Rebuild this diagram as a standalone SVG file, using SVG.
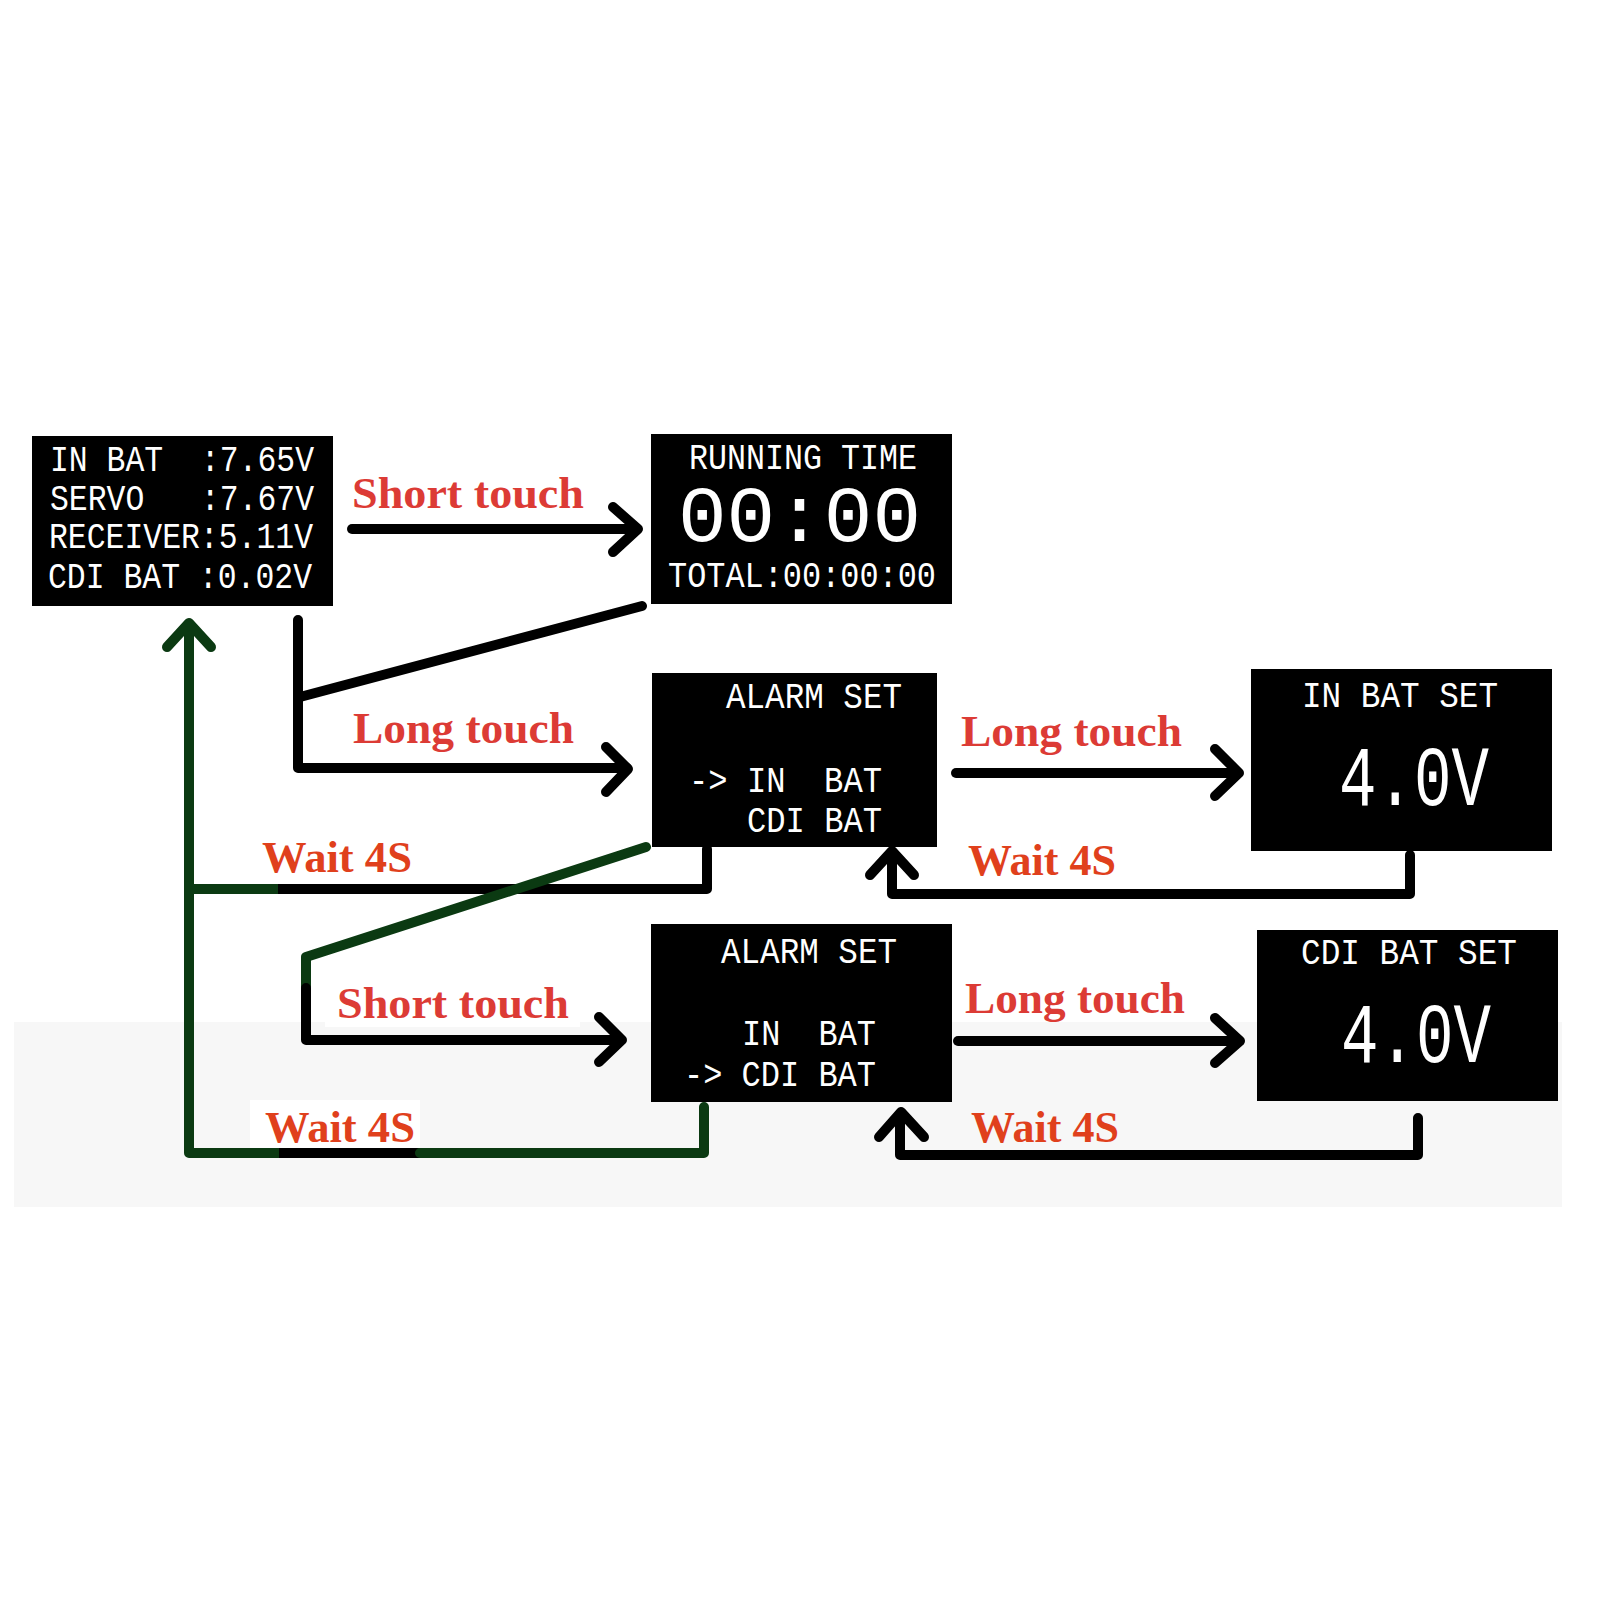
<svg xmlns="http://www.w3.org/2000/svg" width="1600" height="1600" viewBox="0 0 1600 1600">
<style>
.scr{fill:#000}
.lcd{fill:#fff;font-family:"Liberation Mono","DejaVu Sans Mono",monospace;font-size:36px;white-space:pre}
.big{font-size:80px}
.huge{font-size:86px}
.lbl{font-family:"Liberation Serif","DejaVu Serif",serif;font-weight:bold;font-size:45px}
.red{fill:#dc3b35}
.org{fill:#e0401c}
.k{fill:none;stroke:#000;stroke-width:10;stroke-linecap:round;stroke-linejoin:round}
.g{fill:none;stroke:#0b3a12;stroke-width:10;stroke-linecap:round;stroke-linejoin:round}
.gs{fill:none;stroke:#0b3a12;stroke-width:10;stroke-linecap:butt}
.ks{fill:none;stroke:#000;stroke-width:10;stroke-linecap:butt}
</style>
<rect width="1600" height="1600" fill="#fff"/>
<rect x="14" y="1022" width="1548" height="185" fill="#f7f7f7"/>
<rect x="325" y="975" width="255" height="52" fill="#fff"/>
<rect x="955" y="970" width="240" height="52" fill="#fff"/>
<rect x="250" y="1100" width="170" height="48" fill="#fff"/>

<g id="connectors">
  <path class="k" d="M352,529 H636"/>
  <path class="k" d="M613,507 L638,529 L613,552"/>
  <path class="k" d="M298,620 V768 H627"/>
  <path class="k" d="M606,747 L628,769 L606,792"/>
  <path class="k" d="M300,697 L642,606"/>
  <path class="k" d="M707,849 V889 H277"/>
  <path class="gs" d="M190,889 H278"/>
  <path class="g" d="M189,625 V1153 H280"/>
  <path class="ks" d="M279,1153 H421"/>
  <path class="g" d="M420,1153 H704 V1107"/>
  <path class="g" d="M167,647 L189,623 L211,647"/>
  <path class="g" d="M646,847 L306,957 V987"/>
  <path class="k" d="M306,988 V1040 H621"/>
  <path class="k" d="M599,1017 L622,1040 L599,1062"/>
  <path class="k" d="M956,773 H1238"/>
  <path class="k" d="M1215,749 L1239,773 L1215,796"/>
  <path class="k" d="M1410,855 V894 H892 V853"/>
  <path class="k" d="M870,875 L892,851 L914,875"/>
  <path class="k" d="M958,1041 H1239"/>
  <path class="k" d="M1215,1018 L1240,1041 L1215,1063"/>
  <path class="k" d="M1418,1118 V1155 H900 V1114"/>
  <path class="k" d="M879,1137 L901,1112 L924,1137"/>
</g>

<g id="labels">
  <text class="lbl red" x="352" y="508" textLength="232" lengthAdjust="spacingAndGlyphs">Short touch</text>
  <text class="lbl red" x="353" y="743" textLength="221" lengthAdjust="spacingAndGlyphs">Long touch</text>
  <text class="lbl org" x="262" y="872" textLength="150" lengthAdjust="spacingAndGlyphs">Wait 4S</text>
  <text class="lbl red" x="337" y="1018" textLength="232" lengthAdjust="spacingAndGlyphs">Short touch</text>
  <text class="lbl org" x="265" y="1142" textLength="150" lengthAdjust="spacingAndGlyphs">Wait 4S</text>
  <text class="lbl red" x="961" y="746" textLength="221" lengthAdjust="spacingAndGlyphs">Long touch</text>
  <text class="lbl org" x="968" y="875" textLength="148" lengthAdjust="spacingAndGlyphs">Wait 4S</text>
  <text class="lbl red" x="965" y="1013" textLength="220" lengthAdjust="spacingAndGlyphs">Long touch</text>
  <text class="lbl org" x="971" y="1142" textLength="148" lengthAdjust="spacingAndGlyphs">Wait 4S</text>
</g>

<g id="main-screen">
  <rect class="scr" x="32" y="436" width="301" height="170"/>
  <text class="lcd" x="50" y="471" textLength="264" lengthAdjust="spacingAndGlyphs">IN BAT&#160;&#160;:7.65V</text>
  <text class="lcd" x="50" y="510" textLength="264" lengthAdjust="spacingAndGlyphs">SERVO&#160;&#160;&#160;:7.67V</text>
  <text class="lcd" x="49" y="548" textLength="264" lengthAdjust="spacingAndGlyphs">RECEIVER:5.11V</text>
  <text class="lcd" x="48" y="588" textLength="264" lengthAdjust="spacingAndGlyphs">CDI BAT&#160;:0.02V</text>
</g>

<g id="running-time">
  <rect class="scr" x="651" y="434" width="301" height="170"/>
  <text class="lcd" x="689" y="469" textLength="228" lengthAdjust="spacingAndGlyphs">RUNNING TIME</text>
  <text class="lcd big" x="678" y="541" textLength="243" lengthAdjust="spacingAndGlyphs">00:00</text>
  <text class="lcd" x="668" y="587" textLength="268" lengthAdjust="spacingAndGlyphs">TOTAL:00:00:00</text>
</g>

<g id="alarm-set-in">
  <rect class="scr" x="652" y="673" width="285" height="174"/>
  <text class="lcd" x="726" y="708" textLength="176" lengthAdjust="spacingAndGlyphs">ALARM SET</text>
  <text class="lcd" x="689" y="792" textLength="193" lengthAdjust="spacingAndGlyphs">-&gt; IN&#160;&#160;BAT</text>
  <text class="lcd" x="747" y="832" textLength="135" lengthAdjust="spacingAndGlyphs">CDI BAT</text>
</g>

<g id="in-bat-set">
  <rect class="scr" x="1251" y="669" width="301" height="182"/>
  <text class="lcd" x="1302" y="707" textLength="196" lengthAdjust="spacingAndGlyphs">IN BAT SET</text>
  <text class="lcd huge" x="1339" y="805" textLength="150" lengthAdjust="spacingAndGlyphs">4.0V</text>
</g>

<g id="alarm-set-cdi">
  <rect class="scr" x="651" y="924" width="301" height="178"/>
  <text class="lcd" x="721" y="963" textLength="176" lengthAdjust="spacingAndGlyphs">ALARM SET</text>
  <text class="lcd" x="742" y="1045" textLength="134" lengthAdjust="spacingAndGlyphs">IN&#160;&#160;BAT</text>
  <text class="lcd" x="684" y="1086" textLength="192" lengthAdjust="spacingAndGlyphs">-&gt; CDI BAT</text>
</g>

<g id="cdi-bat-set">
  <rect class="scr" x="1257" y="930" width="301" height="171"/>
  <text class="lcd" x="1301" y="964" textLength="216" lengthAdjust="spacingAndGlyphs">CDI BAT SET</text>
  <text class="lcd huge" x="1341" y="1062" textLength="150" lengthAdjust="spacingAndGlyphs">4.0V</text>
</g>
</svg>
